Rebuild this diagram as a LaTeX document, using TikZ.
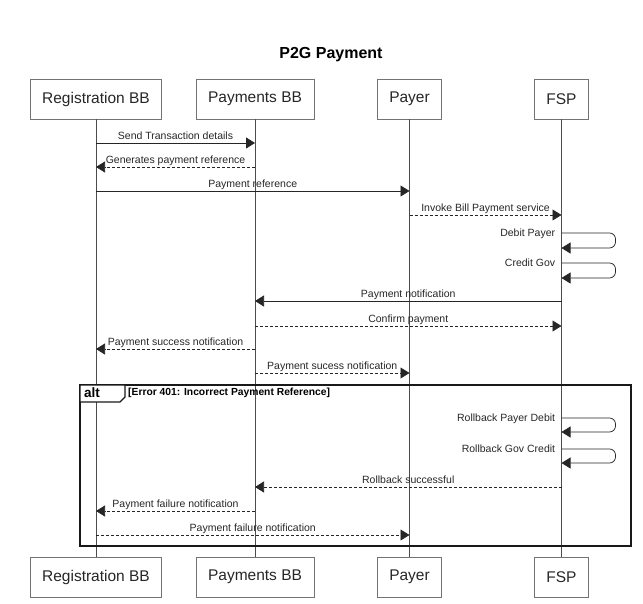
\documentclass[tikz,border=0pt]{standalone}
\usepackage{fontspec}
\setmainfont{Liberation Sans}
\usetikzlibrary{arrows.meta}

\begin{document}
\begin{tikzpicture}[x=1pt,y=-1pt,
  actor/.style={draw=black!55,line width=0.7pt,minimum height=40pt,inner xsep=12pt,
    font=\fontsize{15.5}{18}\selectfont,text=black!85},
  life/.style={draw=black!70,line width=0.7pt},
  msg/.style={draw=black!85,line width=0.75pt,-{Triangle[length=9pt,width=11pt]}},
  reply/.style={msg,dash pattern=on 3pt off 2pt},
  lbl/.style={anchor=base,yshift=3.5pt,inner sep=0pt,
    font=\fontsize{10.5}{12}\selectfont,text=black!85},
  selflbl/.style={lbl,anchor=base east,xshift=-6pt,yshift=-7pt},
  frame/.style={draw=black!90,line width=1.3pt}
]
\useasboundingbox (0,0) rectangle (643,603);

\node[font=\bfseries\fontsize{16}{19}\selectfont] (title) at (331,55) {P2G Payment};

% participants, top and bottom
\node[actor] (reg) at (96,99) {Registration BB};
\node[actor] (pbb) at (255,99) {Payments BB};
\node[actor] (payer) at (409.5,99) {Payer};
\node[actor] (fsp) at (561.5,99) {FSP};
\node[actor] (regB) at (96,577) {Registration BB};
\node[actor] (pbbB) at (255,577) {Payments BB};
\node[actor] (payerB) at (409.5,577) {Payer};
\node[actor] (fspB) at (561.5,577) {FSP};

\draw[life] (reg) -- (regB);
\draw[life] (pbb) -- (pbbB);
\draw[life] (payer) -- (payerB);
\draw[life] (fsp) -- (fspB);

% messages
\draw[msg] (reg |- 0,143) -- (pbb |- 0,143) node[lbl,midway] {Send Transaction details};
\draw[reply] (pbb |- 0,167) -- (reg |- 0,167) node[lbl,midway] {Generates payment reference};
\draw[msg] (reg |- 0,191) -- (payer |- 0,191) node[lbl,midway] {Payment reference};
\draw[reply] (payer |- 0,215) -- (fsp |- 0,215) node[lbl,midway] {Invoke Bill Payment service};
\draw[msg,rounded corners=6pt] (fsp |- 0,233) node[selflbl] {Debit Payer} -| ++(54,15) -- (fsp |- 0,248);
\draw[msg,rounded corners=6pt] (fsp |- 0,263) node[selflbl] {Credit Gov} -| ++(54,15) -- (fsp |- 0,278);
\draw[msg] (fsp |- 0,301) -- (pbb |- 0,301) node[lbl,midway] {Payment notification};
\draw[reply] (pbb |- 0,326) -- (fsp |- 0,326) node[lbl,midway] {Confirm payment};
\draw[reply] (pbb |- 0,349) -- (reg |- 0,349) node[lbl,midway] {Payment success notification};
\draw[reply] (pbb |- 0,373) -- (payer |- 0,373) node[lbl,midway] {Payment sucess notification};

% alt fragment
\draw[frame] (80,385) rectangle (631,546);
\filldraw[frame,fill=white] (80,385) -- (125,385) -- (125,397) -- (120,402) -- (80,402) -- cycle;
\node[anchor=west,inner sep=0pt,font=\bfseries\fontsize{13.5}{16}\selectfont] (altTag) at (84,393) {alt};
\node[anchor=west,inner sep=0pt,font=\bfseries\fontsize{10.3}{12}\selectfont] (altCond) at (128,392.5) {[Error 401: Incorrect Payment Reference]};

\draw[msg,rounded corners=6pt] (fsp |- 0,418) node[selflbl] {Rollback Payer Debit} -| ++(54,14) -- (fsp |- 0,432);
\draw[msg,rounded corners=6pt] (fsp |- 0,449) node[selflbl] {Rollback Gov Credit} -| ++(54,14) -- (fsp |- 0,463);
\draw[reply] (fsp |- 0,487) -- (pbb |- 0,487) node[lbl,midway] {Rollback successful};
\draw[reply] (pbb |- 0,511) -- (reg |- 0,511) node[lbl,midway] {Payment failure notification};
\draw[reply] (reg |- 0,535) -- (payer |- 0,535) node[lbl,midway] {Payment failure notification};
\end{tikzpicture}
\end{document}
